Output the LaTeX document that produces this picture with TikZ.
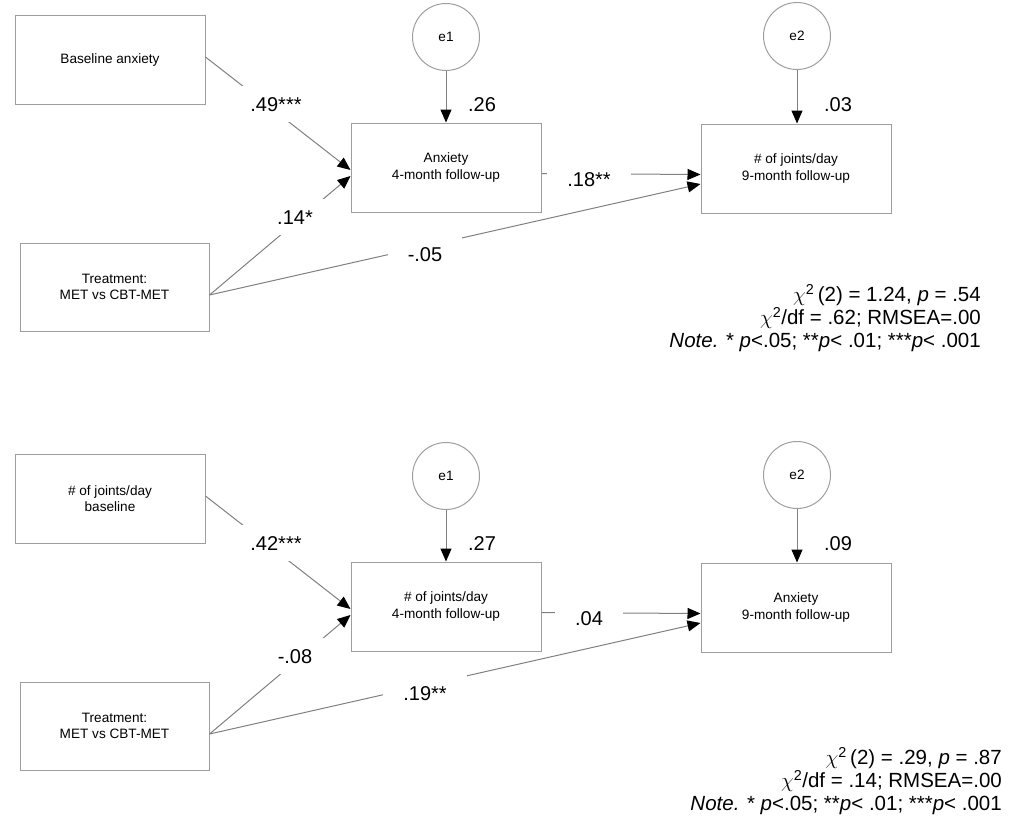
\documentclass[tikz,border=0pt]{standalone}
\usepackage{fontspec}
\setmainfont{Liberation Sans}
\usepackage{tikz}
\usetikzlibrary{arrows.meta}

\definecolor{boxgray}{gray}{0.62}
\definecolor{linegray}{gray}{0.5}

\begin{document}
\begin{tikzpicture}[x=1pt, y=-1pt,
	var/.style={draw=boxgray, line width=1pt, minimum width=190pt, minimum height=89pt, inner sep=0pt, align=center, font=\fontsize{13.6}{16.7}\selectfont},
	err/.style={circle, draw=boxgray, line width=1pt, minimum size=67pt, inner sep=0pt, font=\fontsize{13.6}{16.7}\selectfont},
	effect/.style={draw=linegray, line width=1pt, -{Triangle[length=13pt, width=11pt, color=black]}},
	coef/.style={font=\fontsize{20}{20.5}\selectfont, text height=14.3pt, text depth=0pt, inner sep=0pt},
	coefgap/.style={coef, fill=white, inner xsep=20pt, inner ysep=11pt},
	fitstats/.style={font=\fontsize{20.5}{23}\selectfont, align=right, anchor=east, inner sep=0pt}]
	\useasboundingbox (0,0) rectangle (1011,830);

	\node[var] (base1) at (110,59.5) {Baseline anxiety};
	\node[var, minimum width=189pt, minimum height=88pt] (treat1) at (114.5,287) {Treatment:\\MET vs CBT-MET};
	\node[var] (med1) at (446,167.5) {Anxiety\\4-month follow-up};
	\node[var] (out1) at (796,168.5) {\# of joints/day\\9-month follow-up};
	\node[err] (e1a) at (446,37) {e1};
	\node[err] (e2a) at (797,36) {e2};

	\draw[effect] ([yshift=2.5pt]base1.east) -- ([yshift=-2.5pt]med1.west);
	\draw[effect] ([yshift=-8pt]treat1.east) -- ([yshift=-8.5pt]med1.west);
	\draw[effect] ([yshift=-8pt]treat1.east) -- ([yshift=-15.5pt]out1.west);
	\draw[effect] ([yshift=-6pt]med1.east) -- ([yshift=-6pt]out1.west);
	\draw[effect] (e1a.south) -- (med1.north);
	\draw[effect] (e2a.south) -- (e2a.south |- out1.north);

	\node[coefgap] (c1a) at (276,104) {.49***};
	\node[coefgap] (c2a) at (295,217) {.14*};
	\node[coefgap] (c3a) at (425,254) {-.05};
	\node[coefgap] (c4a) at (589,179) {.18**};
	\node[coef] (r1a) at (482,104) {.26};
	\node[coef] (r2a) at (838,104) {.03};

	\node[fitstats] (fita) at (981,318) {$\chi$\textsuperscript{2}\,(2) = 1.24, \textit{p} = .54\\$\chi$\textsuperscript{2}/df = .62; RMSEA=.00\\\textit{Note.} * \textit{p}<.05; **\textit{p}< .01; ***\textit{p}< .001};

	\node[var] (base2) at (110,498.5) {\# of joints/day\\baseline};
	\node[var, minimum width=189pt, minimum height=88pt] (treat2) at (114.5,726) {Treatment:\\MET vs CBT-MET};
	\node[var] (med2) at (446,606.5) {\# of joints/day\\4-month follow-up};
	\node[var] (out2) at (796,607.5) {Anxiety\\9-month follow-up};
	\node[err] (e1b) at (446,476) {e1};
	\node[err] (e2b) at (797,475) {e2};

	\draw[effect] ([yshift=2.5pt]base2.east) -- ([yshift=-2.5pt]med2.west);
	\draw[effect] ([yshift=-8pt]treat2.east) -- ([yshift=-8.5pt]med2.west);
	\draw[effect] ([yshift=-8pt]treat2.east) -- ([yshift=-15.5pt]out2.west);
	\draw[effect] ([yshift=-6pt]med2.east) -- ([yshift=-6pt]out2.west);
	\draw[effect] (e1b.south) -- (med2.north);
	\draw[effect] (e2b.south) -- (e2b.south |- out2.north);

	\node[coefgap] (c1b) at (276,543) {.42***};
	\node[coefgap] (c2b) at (295,656) {-.08};
	\node[coefgap] (c3b) at (425,693) {.19**};
	\node[coefgap] (c4b) at (589,618) {.04};
	\node[coef] (r1b) at (482,543) {.27};
	\node[coef] (r2b) at (838,543) {.09};

	\node[fitstats] (fitb) at (1002,781) {$\chi$\textsuperscript{2}\,(2) = .29, \textit{p} = .87\\$\chi$\textsuperscript{2}/df = .14; RMSEA=.00\\\textit{Note.} * \textit{p}<.05; **\textit{p}< .01; ***\textit{p}< .001};
\end{tikzpicture}
\end{document}
